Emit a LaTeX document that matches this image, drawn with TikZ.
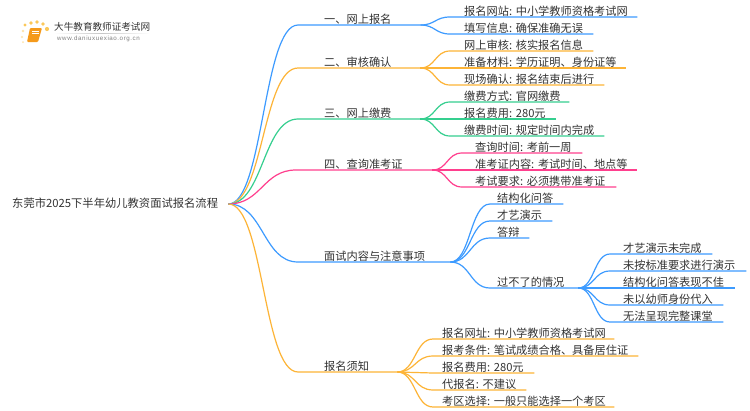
\documentclass[tikz,border=0pt]{standalone}
\usepackage{fontspec}
\setmainfont{Noto Sans CJK SC}
\newfontfamily\urlfont[LetterSpace=9]{Liberation Sans}
\usetikzlibrary{topaths}
\definecolor{linkblue}{HTML}{3D9BFF}
\definecolor{linkorange}{HTML}{FDB437}
\definecolor{linkgreen}{HTML}{35CF8F}
\definecolor{linkpink}{HTML}{FF3F8E}
\definecolor{txtgray}{HTML}{333333}
\definecolor{bookorange}{HTML}{F59A1B}
\definecolor{dotyellow}{HTML}{FBC85A}
\tikzset{
    lbl/.style={anchor=south west,inner sep=0pt,text height=9.5pt,text depth=1.6pt,align=left,text=txtgray,font=\frenchspacing\fontsize{11.2pt}{13pt}\selectfont},
    curve/.style={out=0,in=180,distance=#1},
    bluelink/.style={draw=linkblue,line width=1.2pt},
    orangelink/.style={draw=linkorange,line width=1.2pt},
    greenlink/.style={draw=linkgreen,line width=1.2pt},
    pinklink/.style={draw=linkpink,line width=1.2pt}
}
\begin{document}
\begin{tikzpicture}[x=1pt,y=-1pt]
    \useasboundingbox (0,0) rectangle (750,410);
    \fill[white] (0,0) rectangle (750,410);

    \fill[dotyellow] (25,25) circle (1.6) (31,23) circle (1.8) (37,22) circle (1.8) (43,24) circle (1.8) (47,29) circle (2.1);
    \fill[dotyellow!50] (23,31) circle (1.3) (22,37) circle (1.1) (23,42) circle (1);
    \fill[bookorange,rounded corners=1pt] (30,28) -- (42,28) -- (38,42) -- (27,42) -- cycle;
    \draw[white,line width=.5pt] (32,31) -- (39,31) (31.5,33) -- (38.5,33);
    \node[anchor=west,inner sep=0pt,text=txtgray,font=\fontsize{9.6pt}{12pt}\selectfont] (logotitle) at (54,26.5) {大牛教育教师证考试网};
    \shade[left color=white,right color=white,middle color=black!22] (54,33) rectangle (150,33.8);
    \node[anchor=west,inner sep=0pt,text=black!50,font=\urlfont\fontsize{6.2pt}{8pt}\selectfont] (logourl) at (57,39) {www.daniuxuexiao.org.cn};

    \node[lbl,anchor=west,text width=216pt,font=\fontsize{11.3pt}{13pt}\selectfont] (root) at (12,204) {东莞市2025下半年幼儿教资面试报名流程};

    \node[lbl,text width=96pt] (t1) at (324,25) {一、网上报名};
    \node[lbl,text width=96pt] (t2) at (324,68) {二、审核确认};
    \node[lbl,text width=96pt] (t3) at (324,119) {三、网上缴费};
    \node[lbl,text width=108pt] (t4) at (324,170) {四、查询准考证};
    \node[lbl,text width=126pt] (t5) at (324,262) {面试内容与注意事项};
    \node[lbl,text width=73pt] (t6) at (324,372) {报名须知};

    \draw[bluelink] (root.east) to[curve=35pt] ([xshift=-26pt]t1.south west) -- (t1.south east);
    \draw[orangelink] (root.east) to[curve=35pt] ([xshift=-26pt]t2.south west) -- (t2.south east);
    \draw[greenlink] (root.east) to[curve=35pt] ([xshift=-26pt]t3.south west) -- (t3.south east);
    \draw[pinklink] (root.east) to[curve=33pt] ([xshift=-28pt]t4.south west) -- (t4.south east);
    \draw[bluelink] (root.east) to[curve=35pt] ([xshift=-26pt]t5.south west) -- (t5.south east);
    \draw[orangelink] (root.east) to[curve=35pt] ([xshift=-26pt]t6.south west) -- (t6.south east);

    \node[lbl,text width=173pt] (a1) at (464,17) {报名网站: 中小学教师资格考试网};
    \node[lbl,text width=129pt] (a2) at (464,34) {填写信息: 确保准确无误};
    \draw[bluelink] (t1.south east) to[curve=15pt] ([xshift=-14pt]a1.south west) -- (a1.south east);
    \draw[bluelink] (t1.south east) to[curve=15pt] ([xshift=-14pt]a2.south west) -- (a2.south east);

    \node[lbl,text width=129pt] (b1) at (464,51) {网上审核: 核实报名信息};
    \node[lbl,text width=162pt] (b2) at (464,68) {准备材料: 学历证明、身份证等};
    \node[lbl,text width=140pt] (b3) at (464,85) {现场确认: 报名结束后进行};
    \draw[orangelink] (t2.south east) to[curve=15pt] ([xshift=-14pt]b1.south west) -- (b1.south east);
    \draw[orangelink] (t2.south east) to[curve=15pt] ([xshift=-14pt]b2.south west) -- (b2.south east);
    \draw[orangelink] (t2.south east) to[curve=15pt] ([xshift=-14pt]b3.south west) -- (b3.south east);

    \node[lbl,text width=105pt] (c1) at (464,102) {缴费方式: 官网缴费};
    \node[lbl,text width=92pt] (c2) at (464,119) {报名费用: 280元};
    \node[lbl,text width=140pt] (c3) at (464,136) {缴费时间: 规定时间内完成};
    \draw[greenlink] (t3.south east) to[curve=15pt] ([xshift=-14pt]c1.south west) -- (c1.south east);
    \draw[greenlink] (t3.south east) to[curve=15pt] ([xshift=-14pt]c2.south west) -- (c2.south east);
    \draw[greenlink] (t3.south east) to[curve=15pt] ([xshift=-14pt]c3.south west) -- (c3.south east);

    \node[lbl,text width=107pt] (d1) at (475,153) {查询时间: 考前一周};
    \node[lbl,text width=162pt] (d2) at (475,170) {准考证内容: 考试时间、地点等};
    \node[lbl,text width=141pt] (d3) at (475,187) {考试要求: 必须携带准考证};
    \draw[pinklink] (t4.south east) to[curve=15pt] ([xshift=-13pt]d1.south west) -- (d1.south east);
    \draw[pinklink] (t4.south east) to[curve=15pt] ([xshift=-13pt]d2.south west) -- (d2.south east);
    \draw[pinklink] (t4.south east) to[curve=15pt] ([xshift=-13pt]d3.south west) -- (d3.south east);

    \node[lbl,text width=66pt] (e1) at (497,204) {结构化问答};
    \node[lbl,text width=55pt] (e2) at (497,221) {才艺演示};
    \node[lbl,text width=32pt] (e3) at (497,238) {答辩};
    \node[lbl,text width=81pt] (e4) at (497,288) {过不了的情况};
    \draw[bluelink] (t5.south east) to[curve=20pt] ([xshift=-7pt]e1.south west) -- (e1.south east);
    \draw[bluelink] (t5.south east) to[curve=20pt] ([xshift=-7pt]e2.south west) -- (e2.south east);
    \draw[bluelink] (t5.south east) to[curve=20pt] ([xshift=-7pt]e3.south west) -- (e3.south east);
    \draw[bluelink] (t5.south east) to[curve=20pt] ([xshift=-7pt]e4.south west) -- (e4.south east);

    \node[lbl,text width=89pt] (f1) at (623,254) {才艺演示未完成};
    \node[lbl,text width=123pt] (f2) at (623,271) {未按标准要求进行演示};
    \node[lbl,text width=112pt] (f3) at (623,288) {结构化问答表现不佳};
    \node[lbl,text width=100pt] (f4) at (623,305) {未以幼师身份代入};
    \node[lbl,text width=100pt] (f5) at (623,322) {无法呈现完整课堂};
    \draw[bluelink] (e4.south east) to[curve=16pt] ([xshift=-13pt]f1.south west) -- (f1.south east);
    \draw[bluelink] (e4.south east) to[curve=16pt] ([xshift=-13pt]f2.south west) -- (f2.south east);
    \draw[bluelink] (e4.south east) to[curve=16pt] ([xshift=-13pt]f3.south west) -- (f3.south east);
    \draw[bluelink] (e4.south east) to[curve=16pt] ([xshift=-13pt]f4.south west) -- (f4.south east);
    \draw[bluelink] (e4.south east) to[curve=16pt] ([xshift=-13pt]f5.south west) -- (f5.south east);

    \node[lbl,text width=172pt] (g1) at (442,339) {报名网址: 中小学教师资格考试网};
    \node[lbl,text width=196pt] (g2) at (442,356) {报考条件: 笔试成绩合格、具备居住证};
    \node[lbl,text width=92pt] (g3) at (442,373) {报名费用: 280元};
    \node[lbl,text width=84pt] (g4) at (442,390) {代报名: 不建议};
    \node[lbl,text width=172pt] (g5) at (442,407) {考区选择: 一般只能选择一个考区};
    \draw[orangelink] (t6.south east) to[curve=18pt] ([xshift=-9pt]g1.south west) -- (g1.south east);
    \draw[orangelink] (t6.south east) to[curve=18pt] ([xshift=-9pt]g2.south west) -- (g2.south east);
    \draw[orangelink] (t6.south east) to[curve=18pt] ([xshift=-9pt]g3.south west) -- (g3.south east);
    \draw[orangelink] (t6.south east) to[curve=18pt] ([xshift=-9pt]g4.south west) -- (g4.south east);
    \draw[orangelink] (t6.south east) to[curve=18pt] ([xshift=-9pt]g5.south west) -- (g5.south east);
\end{tikzpicture}
\end{document}
